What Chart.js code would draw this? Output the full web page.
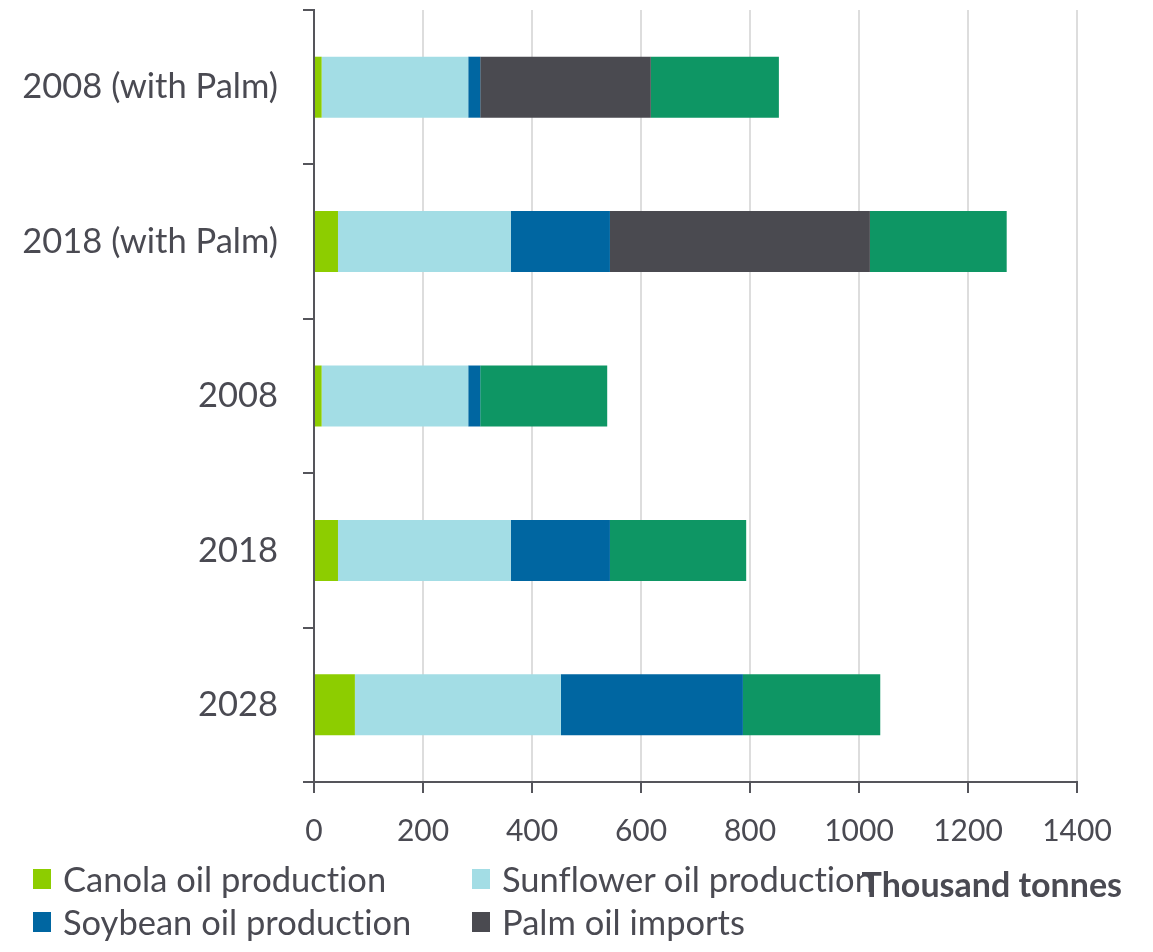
<!DOCTYPE html>
<html lang="en">
<head>
  <meta charset="UTF-8">
  <title>Vegetable oil supply</title>
  <script src="https://cdn.jsdelivr.net/npm/chart.js@4/dist/chart.umd.min.js"></script>
  <style>
    body { margin: 0; background: #fff; }
    #wrap { position: relative; width: 1153px; height: 952px; }
    #legend {
      position: absolute; left: 33px; top: 858px;
      display: grid; grid-template-columns: 439px 440px; row-gap: 2px;
      font-family: Lato, sans-serif; font-size: 34.5px; color: #4a4a52;
      font-variant-ligatures: none;
    }
    #legend div { display: flex; align-items: center; height: 41px; white-space: nowrap; }
    #legend span.box { display: inline-block; width: 18px; height: 20px; margin-right: 12px; }
    #unit {
      position: absolute; right: 31px; top: 862px;
      font-family: Lato, sans-serif; font-weight: bold; font-size: 34px; color: #4a4a52;
      line-height: 44px; white-space: nowrap;
    }
  </style>
</head>
<body>
  <div id="wrap">
    <canvas id="chart" width="1153" height="952"></canvas>
    <div id="legend"></div>
    <div id="unit">Thousand tonnes</div>
  </div>
  <script>

const categories = ['2008 (with Palm)', '2018 (with Palm)', '2008', '2018', '2028'];
const canola    = [14, 44, 14, 44, 75];
const sunflower = [269, 317, 269, 317, 378];
const soybean   = [22, 182, 22, 182, 334];
const palm      = [313, 477, 0, 0, 0];
const other     = [235, 251, 233, 250, 252];
const xTicks    = [0, 200, 400, 600, 800, 1000, 1200, 1400];

const textColor = '#4a4a52';
const axisColor = '#55555b';

const ctx = document.getElementById('chart').getContext('2d');
const myChart = new Chart(ctx, {
  type: 'bar',
  data: {
    labels: categories,
    datasets: [
      { label: 'Canola oil production', data: canola, backgroundColor: '#8dcd00' },
      { label: 'Sunflower oil production', data: sunflower, backgroundColor: '#a3dde5' },
      { label: 'Soybean oil production', data: soybean, backgroundColor: '#0066a1' },
      { label: 'Palm oil imports', data: palm, backgroundColor: '#4a4a50' },
      { label: 'Other oil imports', data: other, backgroundColor: '#0e9664' }
    ]
  },
  options: {
    indexAxis: 'y',
    responsive: false,
    animation: false,
    layout: { padding: { top: 10, right: 76, bottom: 100, left: 0 } },
    datasets: { bar: { categoryPercentage: 1, barPercentage: 0.395, borderWidth: 0 } },
    plugins: { legend: { display: false }, tooltip: { enabled: false } },
    scales: {
      x: {
        stacked: true,
        min: 0, max: 1400,
        afterBuildTicks: s => { s.ticks = xTicks.map(v => ({ value: v })); },
        afterFit: s => { s.height = 70; },
        grid: { color: '#dddddd', lineWidth: 2, tickColor: axisColor, tickLength: 11 },
        border: { color: axisColor, width: 2 },
        ticks: {
          color: textColor, padding: 20, font: { family: 'Lato', size: 30 },
          callback: v => String(v)
        }
      },
      y: {
        stacked: true,
        afterFit: s => { s.width = 314; s.paddingTop = 0; s.paddingBottom = 0; },
        grid: { drawOnChartArea: false, color: axisColor, lineWidth: 2, tickLength: 11 },
        border: { color: axisColor, width: 2 },
        ticks: { color: textColor, padding: 25, font: { family: 'Lato', size: 34.5 } }
      }
    }
  }
});

// legend: only the first four series are shown, as in the source
const legend = document.getElementById('legend');
myChart.data.datasets.slice(0, 4).forEach(ds => {
  const item = document.createElement('div');
  item.innerHTML = '<span class="box" style="background:' + ds.backgroundColor + '"></span>' + ds.label;
  legend.appendChild(item);
});
  </script>
</body>
</html>
